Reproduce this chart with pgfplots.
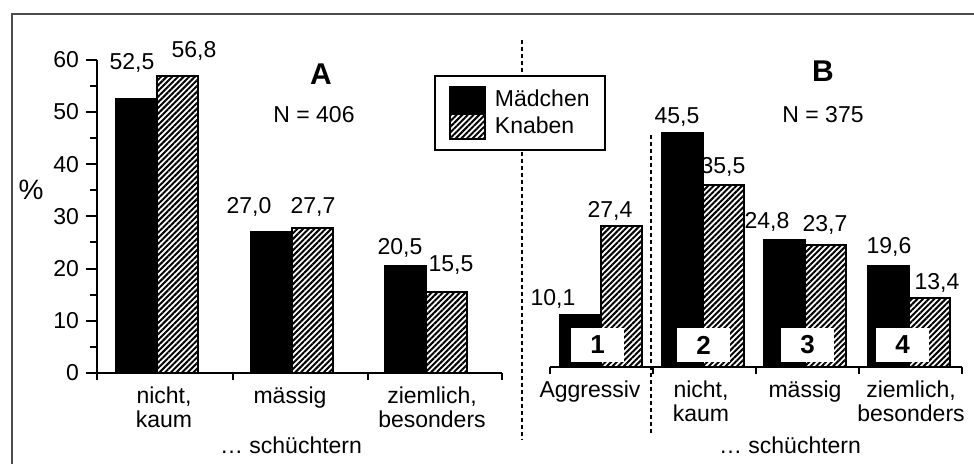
\documentclass[border=0pt]{standalone}
\usepackage{fontspec}
\setmainfont{Liberation Sans}
\usepackage{pgfplots}
\pgfplotsset{compat=1.18}
\usetikzlibrary{patterns.meta}
\newcommand{\fs}{\fontsize{11.5}{12}\selectfont}
\tikzset{hatch/.style={pattern={Lines[angle=45,distance=2pt,line width=1pt]},draw=black,line width=1pt}}
\begin{document}
\begin{tikzpicture}
\useasboundingbox (0,0) rectangle (487pt,232pt);
\begin{scope}[x=0.5pt,y=-0.5pt,yshift=232pt]
 \draw[line width=1pt, black!70] (12,470) -- (12,14) -- (980,14);
 \draw[line width=0.9pt, dash pattern=on 2pt off 1.5pt] (522,40) -- (522,440);
 \draw[line width=0.9pt, dash pattern=on 2pt off 1.5pt] (651,135) -- (651,433);
 \node[font=\fontsize{14}{14}\selectfont] at (31,190) {\%};
 \node[font=\fontsize{15}{15}\selectfont\bfseries] at (321,74) {A};
 \node[font=\fs] at (314,115) {N = 406};
 \node[font=\fontsize{15}{15}\selectfont\bfseries] at (823,71) {B};
 \node[font=\fs] at (823,115) {N = 375};
 \node[font=\fs] at (291,445) {… schüchtern};
 \node[font=\fs] at (790,445) {… schüchtern};
\end{scope}

% Panel A
\begin{axis}[
 at={(48.5pt,45.5pt)}, anchor=south west,
 x=0.5pt, y=2.61pt,
 xmin=97, xmax=502, ymin=0, ymax=60,
 enlargelimits=false,
 axis x line=bottom, axis y line=left,
 axis line style={-, line width=1pt},
 ytick={0,10,...,60}, minor ytick={5,15,...,55},
 xtick={164,290,432},
 xticklabels={{nicht,\\kaum},{mässig},{ziemlich,\\besonders}},
 minor xtick={97,233,368,502},
 tick align=outside, major tick length=5.5pt, minor tick length=3.5pt,
 every tick/.style={line width=1pt, black},
 every major x tick/.append style={draw=none},
 /pgf/number format/assume math mode=true,
 yticklabel style={font=\fontsize{11.5}{12}\selectfont},
 xticklabel style={align=center, font=\fs, inner sep=1pt},
 clip=false,
]
\addplot[ybar, bar width=41, bar shift=0pt, fill=black, draw=black, line width=1pt]
 coordinates {(136,52.5) (271.5,27.0) (405.5,20.5)};
\addplot[ybar, bar width=41, bar shift=0pt, hatch]
 coordinates {(177,56.8) (312.5,27.7) (446.5,15.5)};
\begin{scope}[font=\fs]
\node at (axis cs:132,59.4) {52,5};
\node at (axis cs:194,61.7) {56,8};
\node at (axis cs:249,31.8) {27,0};
\node at (axis cs:313,31.8) {27,7};
\node at (axis cs:400,23.9) {20,5};
\node at (axis cs:451,20.7) {15,5};
\end{scope}
\end{axis}

% Panel B
\begin{axis}[
 at={(275pt,48.5pt)}, anchor=south west,
 x=0.5pt, y=2.57pt,
 xmin=550, xmax=962, ymin=0, ymax=60,
 enlargelimits=false,
 axis x line=bottom, axis y line=none,
 axis line style={-, line width=1pt},
 ytick=\empty,
 xtick={590,701,805,911},
 xticklabels={Aggressiv,{nicht,\\kaum},{mässig},{ziemlich,\\besonders}},
 minor xtick={550,653,756,859,962},
 tick align=outside, major tick length=5.5pt, minor tick length=3.5pt,
 every tick/.style={line width=1pt, black},
 every major x tick/.append style={draw=none},
 xticklabel style={align=center, font=\fs, inner sep=1pt},
 clip=false,
 legend style={at={(-0.2816,0.9468)}, anchor=north west, draw=black, line width=1pt,
   inner xsep=7pt, inner ysep=5pt, font=\fs, nodes={inner sep=0.5pt},
   column sep=4pt, cells={anchor=west}},
 legend image code/.code={\draw[#1, line width=1pt] (0pt,-6.25pt) rectangle (17.5pt,6.25pt);},
]
\addplot[ybar, bar width=41, bar shift=0pt, fill=black, draw=black, line width=1pt]
 coordinates {(580,10.1) (682,45.5) (784.5,24.8) (888.5,19.6)};
\addplot[ybar, bar width=41, bar shift=0pt, hatch]
 coordinates {(621,27.4) (723,35.5) (825.5,23.7) (929.5,13.4)};
\legend{Mädchen, Knaben}
\begin{scope}[font=\fs]
\node at (axis cs:553,13.2) {10,1};
\node at (axis cs:610,30.4) {27,4};
\node at (axis cs:677,48.6) {45,5};
\node at (axis cs:723,38.9) {35,5};
\node at (axis cs:767,28.2) {24,8};
\node at (axis cs:825,27.6) {23,7};
\node at (axis cs:889,23.3) {19,6};
\node at (axis cs:937,16.3) {13,4};
\end{scope}
\begin{scope}[every node/.style={fill=white, inner sep=0pt, minimum width=26.5pt, minimum height=17pt, font=\fontsize{13}{13}\selectfont\bfseries}]
\node at (axis cs:597.5,4.28) {1};
\node at (axis cs:703.5,4.28) {2};
\node at (axis cs:807.5,4.28) {3};
\node at (axis cs:902.5,4.28) {4};
\end{scope}
\end{axis}
\end{tikzpicture}
\end{document}
